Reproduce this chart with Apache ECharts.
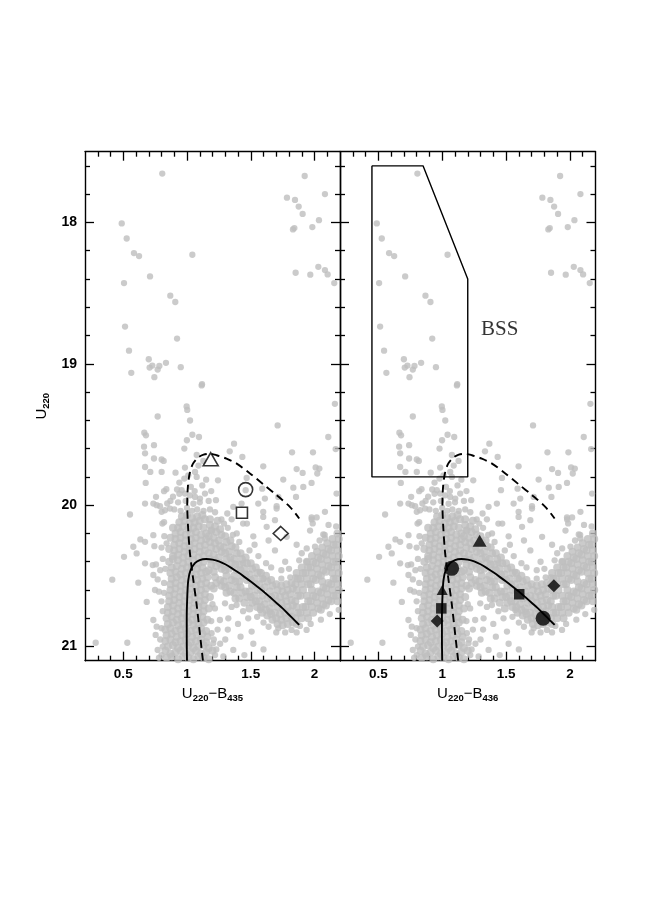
<!DOCTYPE html>
<html><head><meta charset="utf-8">
<script src="https://cdn.jsdelivr.net/npm/echarts@6/dist/echarts.min.js"></script>
<style>html,body{margin:0;padding:0;background:#fff}#c{width:649px;height:918px}</style>
</head><body><div id="c"></div>
<script>
// ---- axis ticks ----
const xMajor = [0.5, 1, 1.5, 2];
const xMinor = [0.3,0.4,0.6,0.7,0.8,0.9,1.1,1.2,1.3,1.4,1.6,1.7,1.8,1.9,2.1];
const yMajor = [18, 19, 20, 21];
const yMinor = [17.6,17.8,18.2,18.4,18.6,18.8,19.2,19.4,19.6,19.8,20.2,20.4,20.6,20.8];

// ---- grey stars (U220-B435, U220) ----
const starsUpper = [[0.806,17.655],[0.488,18.007],[0.527,18.114],[0.584,18.217],[0.624,18.238],[1.042,18.229],[0.71,18.382],[0.506,18.429],[0.869,18.518],[0.908,18.563],[0.514,18.737],[0.922,18.822],[0.545,18.907],[0.7,18.968],[0.707,19.027],[0.728,19.013],[0.77,19.041],[0.783,19.015],[0.744,19.095],[0.835,18.993],[0.951,19.024],[0.563,19.064],[1.118,19.144],
[1.923,17.672],[1.784,17.825],[1.847,17.841],[2.082,17.8],[1.876,17.888],[1.907,17.94],[2.035,17.984],[1.831,18.05],[1.842,18.04],[1.983,18.033],[1.852,18.356],[1.967,18.37],[2.03,18.314],[2.082,18.337],[2.103,18.368],[2.155,18.429]];

const starsMid = [[1.002,19.326],[0.77,19.373],[1.024,19.401],[0.665,19.487],[0.678,19.506],[1.042,19.502],[0.741,19.576],[0.999,19.541],[0.663,19.586],[0.671,19.633],[0.979,19.6],[0.741,19.67],[0.801,19.677],[0.817,19.687],[0.671,19.73],[0.712,19.765],[0.801,19.765],[0.838,19.887],[0.82,19.901],[0.922,19.889],[0.757,19.941],[0.845,19.988],[0.762,20.0],[0.553,20.066],
[1.115,19.153],[0.997,19.302],[1.094,19.518],[0.984,19.734],[1.076,19.645],[1.128,19.687],[1.063,19.765],[1.076,19.8],[0.979,19.812],[1.01,19.789],[0.676,19.843],[0.958,19.894],[0.984,19.918],[1.024,19.93],[1.063,19.942],[1.102,19.953],[1.141,19.918],[0.671,19.989],[0.736,19.989],[0.788,20.007],[0.827,20.036],[0.867,20.024],[0.801,20.047],
[1.711,19.436],[2.108,19.518],[2.16,19.283],[2.166,19.603],[1.369,19.565],[1.335,19.619],[1.434,19.659],[1.824,19.626],[1.988,19.626],[1.598,19.725],[1.86,19.745],[1.907,19.772],[2.009,19.733],[2.038,19.741],[2.022,19.776],[1.977,19.843],[1.243,19.824],[1.468,19.807],[1.755,19.819],[1.912,19.871],[1.46,19.894],[1.834,19.876],[1.855,19.942],[1.59,19.883],[1.611,19.953],[1.716,19.942],[1.227,19.965],[1.559,19.989],[1.703,20.007],[1.363,20.012],[1.428,19.989],[1.598,20.047],[1.316,20.059],[2.082,20.047],[1.977,20.087],[2.017,20.087],[2.173,19.918],
[0.9,20.03],[0.95,20.04],[1.0,20.02],[1.04,20.04],[1.08,20.03],[1.13,20.04],[1.18,20.03],[1.22,20.05],[0.93,19.98],[0.99,19.97],[1.05,19.99],[1.1,19.98],[1.17,19.97],[0.89,19.94],[0.94,19.92],[1.19,19.9],[1.12,19.86],[1.03,19.87],
[0.87,19.97],[1.06,19.9],[1.15,19.82],[0.94,19.84],[1.09,19.72],[0.91,19.77]];

const starsMS = [
[0.84,21.08],[0.88,21.07],[0.93,21.09],[0.97,21.07],[1.01,21.08],[1.05,21.09],[1.09,21.07],[1.13,21.08],[1.17,21.09],
[0.83,21.03],[0.87,21.05],[0.91,21.04],[0.95,21.03],[0.99,21.05],[1.03,21.04],[1.07,21.03],[1.11,21.05],[1.15,21.04],[1.2,21.03],
[0.85,21.0],[0.89,20.99],[0.93,21.01],[0.97,21.0],[1.01,20.99],[1.05,21.01],[1.09,21.0],[1.13,20.99],[1.17,21.01],
[0.83,20.96],[0.87,20.95],[0.91,20.97],[0.95,20.96],[0.99,20.95],[1.03,20.97],[1.07,20.96],[1.11,20.95],[1.15,20.97],
[0.84,20.92],[0.88,20.91],[0.92,20.93],[0.96,20.92],[1.0,20.91],[1.04,20.93],[1.08,20.92],[1.12,20.91],[1.16,20.93],
[0.83,20.88],[0.87,20.87],[0.91,20.89],[0.95,20.88],[0.99,20.87],[1.03,20.89],[1.07,20.88],[1.11,20.87],[1.15,20.89],
[0.85,20.84],[0.89,20.83],[0.93,20.85],[0.97,20.84],[1.01,20.83],[1.05,20.85],[1.09,20.84],[1.13,20.83],
[0.84,20.8],[0.88,20.79],[0.92,20.81],[0.96,20.8],[1.0,20.79],[1.04,20.81],[1.08,20.8],[1.12,20.79],[1.16,20.81],
[0.85,20.76],[0.89,20.75],[0.93,20.77],[0.97,20.76],[1.01,20.75],[1.05,20.77],[1.09,20.76],[1.13,20.75],
[0.85,20.72],[0.89,20.71],[0.93,20.73],[0.97,20.72],[1.01,20.71],[1.05,20.73],[1.09,20.72],[1.13,20.71],[1.17,20.73],
[0.86,20.68],[0.9,20.67],[0.94,20.69],[0.98,20.68],[1.02,20.67],[1.06,20.69],[1.1,20.68],[1.14,20.67],
[0.86,20.64],[0.9,20.63],[0.94,20.65],[0.98,20.64],[1.02,20.63],[1.06,20.65],[1.1,20.64],[1.14,20.63],[1.18,20.65],
[0.87,20.6],[0.91,20.59],[0.95,20.61],[0.99,20.6],[1.03,20.59],[1.07,20.61],[1.11,20.6],[1.15,20.59],
[0.87,20.56],[0.91,20.55],[0.95,20.57],[0.99,20.56],[1.03,20.55],[1.07,20.57],[1.11,20.56],[1.15,20.55],[1.19,20.57],
[0.88,20.52],[0.92,20.51],[0.96,20.53],[1.0,20.52],[1.04,20.51],[1.08,20.53],[1.12,20.52],[1.16,20.51],
[0.87,20.48],[0.91,20.47],[0.95,20.49],[0.99,20.48],[1.03,20.47],[1.07,20.49],[1.11,20.48],[1.15,20.47],
[0.88,20.44],[0.92,20.43],[0.96,20.45],[1.0,20.44],[1.04,20.43],[1.08,20.45],[1.12,20.44],
[0.86,20.4],[0.89,20.38],[0.93,20.39],[0.97,20.41],[1.01,20.4],[1.05,20.39],[1.09,20.41],[1.13,20.4],
[0.89,20.36],[0.93,20.35],[0.97,20.37],[1.01,20.36],[1.05,20.35],[1.09,20.37],[1.13,20.36],
[0.86,20.31],[0.9,20.32],[0.94,20.31],[0.98,20.33],[1.02,20.32],[1.06,20.31],[1.1,20.33],[1.14,20.32],
[0.9,20.28],[0.94,20.27],[0.98,20.29],[1.02,20.28],[1.06,20.27],[1.1,20.29],[1.14,20.28],
[0.87,20.23],[0.91,20.24],[0.95,20.23],[0.99,20.25],[1.03,20.24],[1.07,20.23],[1.11,20.25],[1.15,20.24],
[0.91,20.2],[0.95,20.19],[0.99,20.21],[1.03,20.2],[1.07,20.19],[1.11,20.21],[1.15,20.2],
[0.89,20.16],[0.93,20.16],[0.97,20.15],[1.01,20.17],[1.05,20.16],[1.09,20.15],[1.13,20.16],
[0.94,20.12],[0.98,20.11],[1.02,20.13],[1.06,20.12],[1.1,20.11],[1.14,20.1],[1.18,20.1],[1.24,20.11],
[0.96,20.08],[1.0,20.07],[1.04,20.09],[1.08,20.08],[1.12,20.07]];

const starsSGB = [
[1.18,20.14],[1.19,20.18],[1.17,20.22],[1.18,20.26],[1.19,20.3],[1.17,20.34],[1.18,20.38],[1.19,20.42],[1.17,20.46],
[1.22,20.15],[1.23,20.19],[1.21,20.23],[1.22,20.27],[1.23,20.31],[1.21,20.35],[1.22,20.39],[1.23,20.43],[1.21,20.47],[1.22,20.51],[1.23,20.55],[1.21,20.59],
[1.26,20.17],[1.27,20.21],[1.25,20.25],[1.26,20.29],[1.27,20.33],[1.25,20.37],[1.26,20.41],[1.27,20.45],[1.26,20.53],[1.27,20.57],
[1.3,20.22],[1.31,20.26],[1.29,20.3],[1.3,20.34],[1.31,20.38],[1.29,20.42],[1.3,20.46],[1.31,20.5],[1.29,20.54],[1.3,20.58],[1.31,20.62],
[1.34,20.25],[1.35,20.29],[1.33,20.33],[1.34,20.37],[1.35,20.41],[1.33,20.45],[1.35,20.53],[1.33,20.57],[1.34,20.61],
[1.38,20.3],[1.39,20.34],[1.37,20.38],[1.38,20.42],[1.39,20.46],[1.37,20.5],[1.38,20.54],[1.39,20.58],[1.37,20.62],[1.38,20.66],
[1.42,20.34],[1.43,20.38],[1.41,20.42],[1.42,20.46],[1.43,20.5],[1.41,20.54],[1.42,20.58],[1.43,20.62],[1.41,20.66],
[1.46,20.37],[1.47,20.41],[1.45,20.45],[1.46,20.49],[1.47,20.53],[1.46,20.61],[1.47,20.65],[1.45,20.69],
[1.5,20.41],[1.51,20.45],[1.49,20.49],[1.5,20.53],[1.51,20.57],[1.49,20.61],[1.5,20.65],[1.51,20.69],[1.49,20.73],
[1.54,20.44],[1.55,20.48],[1.53,20.52],[1.54,20.56],[1.55,20.6],[1.53,20.64],[1.54,20.68],[1.55,20.72],
[1.58,20.48],[1.59,20.52],[1.57,20.56],[1.58,20.6],[1.59,20.64],[1.57,20.68],[1.58,20.72],[1.59,20.76],
[1.62,20.5],[1.63,20.54],[1.61,20.58],[1.63,20.66],[1.61,20.7],[1.62,20.74],[1.63,20.78],
[1.66,20.53],[1.67,20.57],[1.65,20.61],[1.66,20.65],[1.67,20.69],[1.65,20.73],[1.66,20.77],[1.67,20.81],
[1.7,20.56],[1.71,20.6],[1.69,20.64],[1.7,20.68],[1.71,20.72],[1.69,20.76],[1.7,20.8],[1.71,20.84],
[1.74,20.57],[1.75,20.61],[1.73,20.65],[1.74,20.69],[1.75,20.73],[1.73,20.77],[1.74,20.81],[1.75,20.85],
[1.78,20.56],[1.79,20.6],[1.77,20.64],[1.78,20.68],[1.79,20.72],[1.77,20.76],[1.78,20.8],[1.79,20.84],
[1.82,20.55],[1.83,20.59],[1.81,20.63],[1.82,20.67],[1.83,20.71],[1.81,20.75],[1.82,20.79],[1.83,20.83]];

const starsRGB = [
[1.86,20.48],[1.87,20.52],[1.85,20.56],[1.86,20.6],[1.87,20.64],[1.85,20.68],[1.86,20.72],[1.87,20.76],[1.85,20.8],[1.86,20.84],
[1.9,20.44],[1.91,20.48],[1.89,20.52],[1.9,20.56],[1.91,20.6],[1.89,20.64],[1.91,20.72],[1.89,20.76],[1.9,20.8],
[1.94,20.4],[1.95,20.44],[1.93,20.48],[1.94,20.52],[1.95,20.56],[1.94,20.64],[1.95,20.68],[1.93,20.72],[1.94,20.76],[1.95,20.8],
[1.98,20.36],[1.99,20.4],[1.97,20.44],[1.98,20.48],[1.99,20.52],[1.97,20.56],[1.98,20.6],[1.99,20.64],[1.97,20.68],[1.98,20.72],[1.99,20.76],
[2.02,20.33],[2.03,20.37],[2.01,20.41],[2.02,20.45],[2.03,20.49],[2.01,20.53],[2.03,20.61],[2.01,20.65],[2.02,20.69],[2.03,20.73],
[2.06,20.3],[2.07,20.34],[2.05,20.38],[2.06,20.42],[2.07,20.46],[2.05,20.5],[2.06,20.54],[2.07,20.58],[2.05,20.62],[2.06,20.66],[2.07,20.7],[2.05,20.74],
[2.1,20.27],[2.11,20.31],[2.09,20.35],[2.1,20.39],[2.11,20.43],[2.09,20.47],[2.11,20.55],[2.09,20.59],[2.1,20.63],[2.11,20.67],[2.09,20.71],
[2.14,20.24],[2.15,20.28],[2.13,20.32],[2.14,20.36],[2.15,20.4],[2.13,20.44],[2.14,20.48],[2.15,20.52],[2.13,20.56],[2.14,20.6],[2.15,20.64],[2.13,20.68],
[2.18,20.2],[2.19,20.24],[2.17,20.28],[2.18,20.32],[2.19,20.36],[2.17,20.4],[2.18,20.44],[2.19,20.48],[2.17,20.52],[2.18,20.56],[2.19,20.6],[2.17,20.64],[2.18,20.68]];

const starsSparse = [[0.506,20.365],[0.414,20.527],[0.618,20.548],[0.684,20.684],[0.579,20.294],[0.671,20.411],[0.284,20.973],[0.532,20.973],[1.703,20.024],[1.69,20.106],[1.978,20.101],[1.986,20.129],[2.069,20.207],[2.082,20.235],[2.004,20.294],[1.939,20.306],[1.598,20.083],[1.625,20.153],[1.782,20.224],
[0.605,20.341],[0.634,20.242],[0.671,20.259],[0.736,20.212],[0.744,20.29],[0.731,20.424],[0.757,20.419],[0.736,20.494],[0.77,20.525],[0.749,20.6],[0.78,20.612],[0.736,20.812],[0.762,20.859],[0.754,20.918],[0.77,21.024],[0.807,20.13],[0.822,20.219],
[0.8,20.3],[0.81,20.38],[0.79,20.46],[0.82,20.55],[0.8,20.68],[0.81,20.75],[0.79,20.95],[0.8,21.06],[0.78,21.08],
[1.44,20.13],[1.47,20.13],[1.19,20.18],[1.36,20.21],[1.49,20.32],[1.44,20.41],[1.69,20.32],[1.57,20.47],[1.6,20.52],[1.74,20.46],[1.74,20.52],[1.81,20.51],[1.85,20.51],[1.965,20.18],[2.04,20.25],[1.9,20.34],[1.94,20.4],[2.08,20.21],[2.11,20.14],[2.17,20.15],
[1.193,20.906],[1.206,20.977],[1.258,20.812],[1.324,20.8],[1.363,21.024],[1.285,21.07],[1.507,20.894],[1.572,20.741],[1.716,20.871],[1.82,20.882],[1.938,20.882],[1.886,20.854],[1.651,20.753],[1.219,20.73],[1.298,20.694],[1.389,20.706],
[1.24,20.88],[1.3,20.95],[1.42,20.93],[1.45,21.06],[1.22,21.06],[1.26,20.98],
[1.27,20.1],[1.32,20.16],[1.39,20.2],[1.41,20.26],[1.53,20.28],[1.56,20.36],[1.62,20.41],[1.66,20.44],[1.52,20.22],[1.29,20.13],[1.35,20.1],[1.64,20.25],[1.77,20.4],[1.8,20.45],[1.88,20.39],[1.86,20.28],
[1.35,20.72],[1.44,20.75],[1.48,20.8],[1.55,20.79],[1.6,20.83],[1.64,20.86],[1.7,20.9],[1.77,20.9],[1.86,20.9],[1.97,20.84],[2.05,20.81],[2.12,20.77],[2.19,20.74],[1.52,20.98],[1.6,21.02],[1.32,20.88],[1.4,20.84],
[0.82,20.12],[0.84,20.27],[0.83,20.45],[0.82,20.62],[0.8,20.87],[0.81,21.0],[1.21,20.95],[1.23,21.02],[1.19,20.82],[1.2,20.7]];

const denseStars = [].concat(starsMS, starsSGB, starsRGB);
const looseStars = [].concat(starsUpper, starsMid, starsSparse);

// ---- model sequences ----
const solidCurve = [[1.0,21.1],[0.998,20.95],[0.998,20.8],[1.002,20.65],[1.01,20.53],[1.028,20.46],[1.062,20.41],[1.1,20.388],[1.15,20.381],[1.2,20.385],[1.25,20.397],[1.3,20.418],[1.35,20.445],[1.4,20.475],[1.45,20.507],[1.5,20.54],[1.55,20.575],[1.6,20.611],[1.65,20.65],[1.7,20.69],[1.75,20.73],[1.8,20.775],[1.85,20.82],[1.88,20.847]];
const dashedCurve = [[1.125,21.1],[1.1,20.9],[1.075,20.7],[1.045,20.5],[1.022,20.33],[1.008,20.15],[1.002,20.0],[1.006,19.88],[1.02,19.78],[1.045,19.71],[1.085,19.665],[1.13,19.643],[1.18,19.636],[1.233,19.647],[1.31,19.671],[1.39,19.706],[1.494,19.776],[1.598,19.852],[1.703,19.929],[1.807,20.012],[1.88,20.094]];
const bssBox = [[0.45,17.6],[0.85,17.6],[1.2,18.4],[1.2,19.8],[0.45,19.8],[0.45,17.6]];
const bssLabel = 'BSS';
const bssLabelPos = [[1.45,18.757]];

// ---- special stars ----
const openTriangle = [[1.186,19.675]];
const openCircle = [[1.46,19.89]];
const openSquare = [[1.431,20.054]];
const openDiamond = [[1.735,20.2]];
const fillTriBig = [[1.293,20.252]];
const fillTriSmall = [[1.0,20.6]];
const fillCircle = [[1.074,20.447],[1.79,20.8]];
const fillSquare = [[0.993,20.73],[1.603,20.63]];
const fillDiamond = [[0.961,20.82],[1.874,20.57]];

const FONT = 'Liberation Sans';
const RICH = {
  m:{fontFamily:FONT,fontSize:15,color:'#000',lineHeight:18},
  s:{fontFamily:FONT,fontSize:9.5,color:'#000',lineHeight:9,verticalAlign:'bottom',fontWeight:'bold'}
};

function xAx(gi,pos,vals,len,extra){
  return Object.assign({type:'value',gridIndex:gi,position:pos,min:0.2,max:2.2,
    axisLine:{show:true,onZero:false,lineStyle:{color:'#000',width:1.4}},
    axisTick:{show:true,inside:true,length:len,customValues:vals,lineStyle:{color:'#000',width:1.3}},
    axisLabel:{show:false},splitLine:{show:false}},extra||{});
}
function yAx(gi,pos,vals,len,extra){
  return Object.assign({type:'value',gridIndex:gi,position:pos,min:17.5,max:21.1,inverse:true,
    axisLine:{show:true,onZero:false,lineStyle:{color:'#000',width:1.4}},
    axisTick:{show:true,inside:true,length:len,customValues:vals,lineStyle:{color:'#000',width:1.3}},
    axisLabel:{show:false},splitLine:{show:false}},extra||{});
}
const xLab = {show:true,customValues:xMajor,color:'#000',fontFamily:FONT,fontSize:13.5,fontWeight:'bold',margin:7};
const yLab = {show:true,customValues:yMajor,color:'#000',fontFamily:FONT,fontSize:14,fontWeight:'bold',margin:8};
const noLine = {axisLine:{show:false}};

const xAxes = [
  xAx(0,'bottom',xMajor,9,{axisLabel:xLab,name:'{m|U}{s|220}{m|\u2212B}{s|435}',nameLocation:'middle',nameGap:24,nameTextStyle:{rich:RICH}}),
  xAx(0,'top',xMajor,9),
  xAx(1,'bottom',xMajor,9,{axisLabel:xLab,name:'{m|U}{s|220}{m|\u2212B}{s|436}',nameLocation:'middle',nameGap:24,nameTextStyle:{rich:RICH}}),
  xAx(1,'top',xMajor,9),
  xAx(2,'bottom',xMinor,5,noLine), xAx(2,'top',xMinor,5,noLine),
  xAx(3,'bottom',xMinor,5,noLine), xAx(3,'top',xMinor,5,noLine)
];
const yAxes = [
  yAx(0,'left',yMajor,9,{axisLabel:yLab,name:'{m|U}{s|220}',nameLocation:'middle',nameRotate:90,nameGap:34,nameTextStyle:{rich:RICH}}),
  yAx(0,'right',yMajor,9),
  yAx(1,'left',yMajor,9),
  yAx(1,'right',yMajor,9),
  yAx(2,'left',yMinor,5,noLine), yAx(2,'right',yMinor,5,noLine),
  yAx(3,'left',yMinor,5,noLine), yAx(3,'right',yMinor,5,noLine)
];

const G = '#bebebe';
function grey(xi,yi,data,size){return {type:'scatter',xAxisIndex:xi,yAxisIndex:yi,data:data,symbolSize:size,itemStyle:{color:G},silent:true,z:1};}
function curve(xi,yi,data,dashed){return {type:'line',xAxisIndex:xi,yAxisIndex:yi,data:data,showSymbol:false,smooth:0.3,
  lineStyle:{color:'#000',width:1.9,type:dashed?[8,5]:'solid'},silent:true,z:3};}
function mark(xi,yi,data,sym,size,filled){return {type:'scatter',xAxisIndex:xi,yAxisIndex:yi,data:data,symbol:sym,symbolSize:size,
  itemStyle: filled?{color:'#000'}:{color:'rgba(0,0,0,0)',borderColor:'#000',borderWidth:1.6},silent:true,z:5};}

const option = {
  backgroundColor:'#fff', animation:false,
  grid:[
    {left:85,top:151.7,width:255,height:509},
    {left:340,top:151.7,width:255.5,height:509},
    {left:85,top:151.7,width:255,height:509},
    {left:340,top:151.7,width:255.5,height:509}
  ],
  xAxis:xAxes, yAxis:yAxes,
  series:[
    grey(0,0,denseStars,8), grey(0,0,looseStars,6.3),
    grey(2,2,denseStars,8), grey(2,2,looseStars,6.3),
    curve(0,0,dashedCurve,true), curve(0,0,solidCurve,false),
    curve(2,2,dashedCurve,true), curve(2,2,solidCurve,false),
    {type:'line',xAxisIndex:2,yAxisIndex:2,data:bssBox,showSymbol:false,lineStyle:{color:'#000',width:1.4},silent:true,z:3},
    {type:'scatter',xAxisIndex:2,yAxisIndex:2,data:bssLabelPos,symbolSize:1,itemStyle:{color:'rgba(0,0,0,0)'},
      label:{show:true,position:'inside',formatter:bssLabel,color:'#000',fontFamily:'Liberation Serif',fontSize:21},silent:true,z:4},
    mark(0,0,openTriangle,'triangle',[15,13],false),
    mark(0,0,openCircle,'circle',14,false),
    mark(0,0,openSquare,'rect',11,false),
    mark(0,0,openDiamond,'diamond',[15,14],false),
    mark(2,2,fillTriBig,'triangle',[14,12],true),
    mark(2,2,fillTriSmall,'triangle',[11,10],true),
    mark(2,2,fillCircle,'circle',15,true),
    mark(2,2,fillSquare,'rect',10.5,true),
    mark(2,2,fillDiamond,'diamond',13,true)
  ]
};
const chart = echarts.init(document.getElementById('c'),null,{renderer:'canvas'});
chart.setOption(option);
</script></body></html>
